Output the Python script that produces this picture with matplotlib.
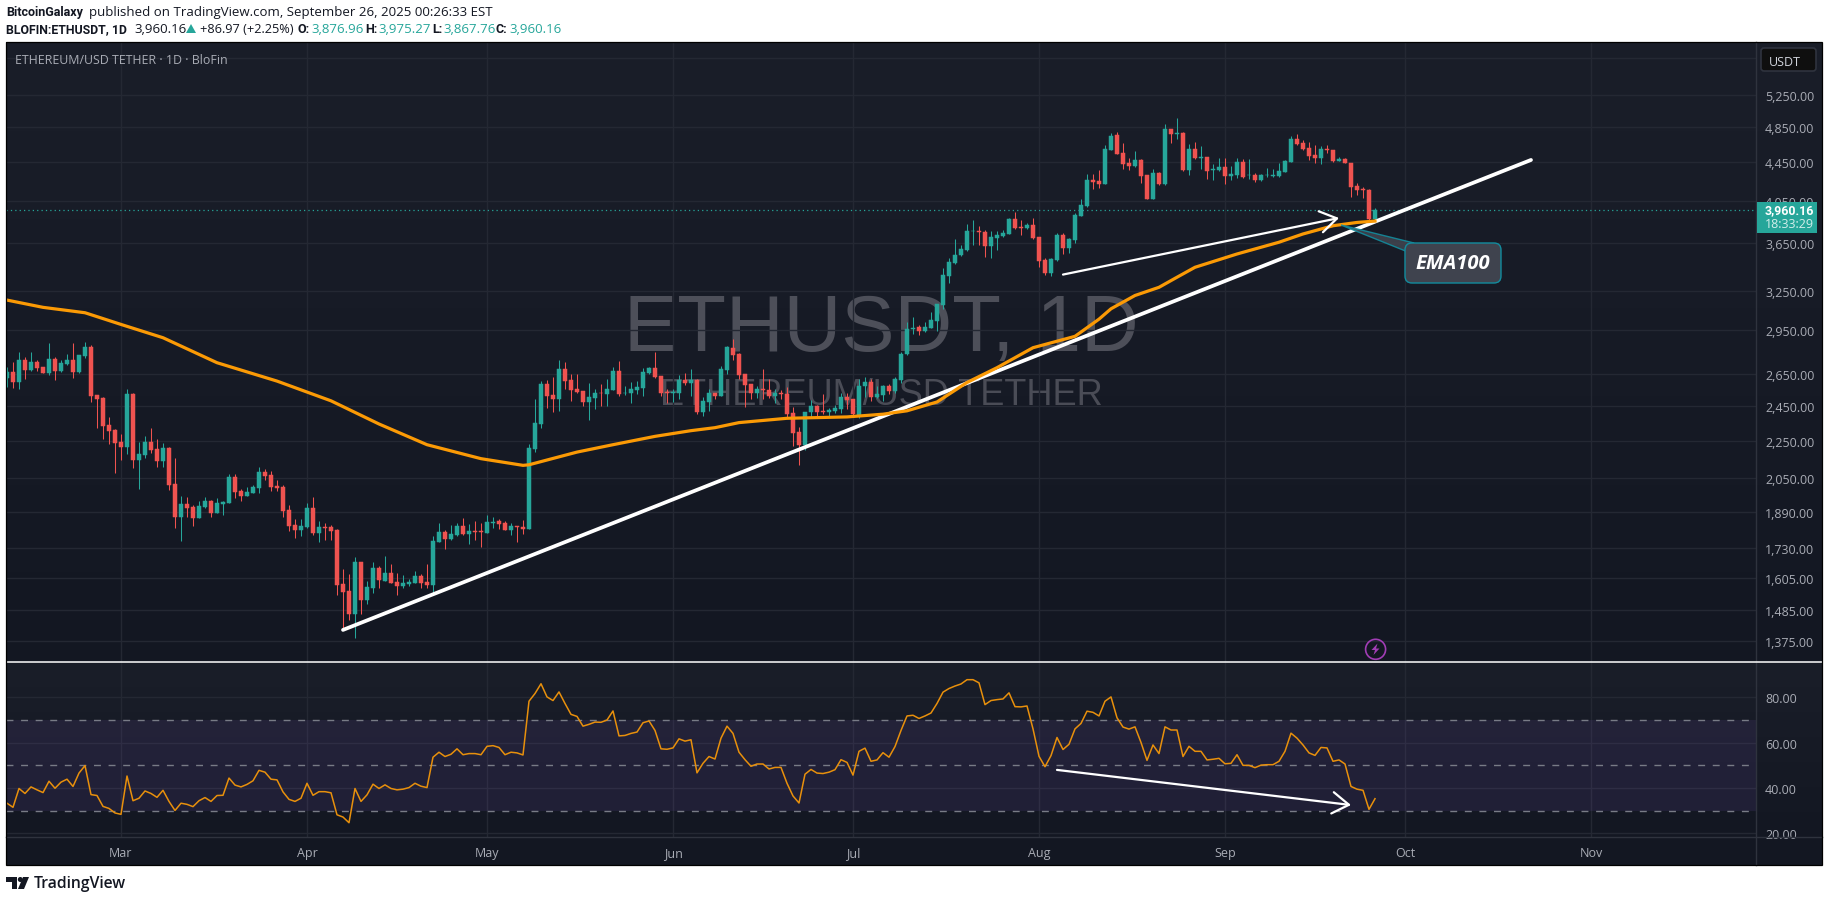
import numpy as np
import pandas as pd
import matplotlib
matplotlib.use("Agg")
import matplotlib.pyplot as plt
from matplotlib.colors import LinearSegmentedColormap
from matplotlib.lines import Line2D
from matplotlib.patches import Circle, FancyBboxPatch, Polygon, Rectangle
from matplotlib.transforms import Affine2D

W, H = 1829, 903

# daily candles, 2025-02-10 .. 2025-09-26
opens = [
    2623, 2659, 2598, 2744, 2673, 2727, 2692, 2652, 2751, 2666,
    2716, 2744, 2659, 2765, 2828, 2515, 2496, 2338, 2309, 2241,
    2215, 2521, 2147, 2173, 2241, 2204, 2141, 2210, 2023, 1865,
    1925, 1911, 1860, 1911, 1940, 1883, 1925, 1930, 2057, 1989,
    1964, 1979, 2003, 2084, 2067, 2013, 2008, 1896, 1829, 1807,
    1820, 1906, 1794, 1820, 1820, 1807, 1583, 1556, 1472, 1671,
    1521, 1567, 1647, 1595, 1627, 1591, 1575, 1583, 1587, 1614,
    1591, 1579, 1754, 1798, 1767, 1785, 1825, 1789, 1803, 1803,
    1794, 1838, 1847, 1838, 1807, 1825, 1820, 1811, 2204, 2344,
    2583, 2515, 2490, 2680, 2608, 2552, 2540, 2471, 2496, 2531,
    2521, 2546, 2666, 2525, 2525, 2548, 2558, 2652, 2687, 2633,
    2533, 2525, 2531, 2608, 2592, 2608, 2412, 2471, 2527, 2508,
    2673, 2821, 2779, 2646, 2583, 2527, 2552, 2546, 2508, 2525,
    2521, 2406, 2298, 2225, 2412, 2446, 2418, 2412, 2418, 2429,
    2502, 2490, 2395, 2571, 2596, 2502, 2515, 2571, 2540, 2608,
    2779, 2960, 2970, 2941, 2968, 3015, 3140, 3372, 3474, 3545,
    3590, 3759, 3765, 3756, 3627, 3700, 3718, 3737, 3876, 3802,
    3793, 3821, 3709, 3500, 3397, 3500, 3728, 3610, 3681, 3904,
    3997, 4264, 4253, 4222, 4591, 4762, 4557, 4443, 4411, 4477,
    4317, 4064, 4338, 4222, 4831, 4774, 4785, 4369, 4602, 4495,
    4511, 4369, 4369, 4401, 4306, 4317, 4454, 4310, 4317, 4264,
    4310, 4306, 4306, 4348, 4454, 4717, 4671, 4614, 4534, 4499,
    4602, 4591, 4465, 4488, 4443, 4201, 4169, 4159, 3876.96,
]
highs = [
    2692, 2727, 2798, 2762, 2798, 2744, 2692, 2856, 2762, 2741,
    2779, 2856, 2772, 2863, 2847, 2515, 2506, 2382, 2315, 2286,
    2552, 2527, 2240, 2275, 2320, 2258, 2236, 2215, 2157, 1964,
    1960, 1921, 1940, 1960, 1945, 1955, 1940, 2073, 2073, 1998,
    2008, 2018, 2110, 2099, 2089, 2042, 2018, 1921, 1856, 1856,
    1930, 1960, 1847, 1838, 1829, 1811, 1643, 1622, 1691, 1671,
    1595, 1671, 1655, 1695, 1663, 1627, 1618, 1603, 1635, 1622,
    1662, 1780, 1838, 1807, 1829, 1838, 1860, 1834, 1847, 1838,
    1874, 1865, 1856, 1847, 1838, 1825, 1851, 2231, 2490, 2602,
    2608, 2627, 2744, 2730, 2646, 2646, 2540, 2590, 2552, 2583,
    2615, 2694, 2737, 2569, 2594, 2604, 2687, 2692, 2793, 2633,
    2556, 2556, 2644, 2652, 2680, 2615, 2506, 2552, 2527, 2704,
    2837, 2884, 2786, 2646, 2583, 2569, 2680, 2619, 2552, 2548,
    2567, 2444, 2324, 2412, 2484, 2452, 2521, 2439, 2452, 2525,
    2525, 2490, 2619, 2631, 2615, 2569, 2577, 2583, 2629, 2798,
    3010, 3047, 2985, 3010, 3085, 3147, 3431, 3522, 3684, 3630,
    3830, 3867, 3805, 3774, 3765, 3759, 3768, 3883, 3938, 3867,
    3836, 3883, 3709, 3517, 3517, 3746, 3746, 3696, 3932, 4064,
    4327, 4327, 4369, 4648, 4781, 4797, 4671, 4499, 4580, 4488,
    4317, 4380, 4345, 4888, 4831, 4957, 4800, 4660, 4679, 4633,
    4511, 4429, 4496, 4496, 4415, 4496, 4488, 4488, 4338, 4324,
    4387, 4380, 4443, 4477, 4751, 4774, 4698, 4682, 4640, 4633,
    4640, 4591, 4515, 4499, 4443, 4232, 4190, 4169, 3975.27,
]
lows = [
    2567, 2558, 2552, 2615, 2666, 2669, 2655, 2641, 2608, 2661,
    2711, 2621, 2652, 2753, 2471, 2321, 2258, 2231, 2078, 2147,
    2178, 2105, 1998, 2157, 2183, 2106, 2110, 1993, 1816, 1758,
    1865, 1825, 1860, 1906, 1865, 1883, 1874, 1930, 1955, 1940,
    1964, 1979, 1979, 2042, 1989, 1989, 1865, 1803, 1771, 1780,
    1816, 1785, 1754, 1763, 1763, 1540, 1414, 1448, 1386, 1472,
    1506, 1548, 1567, 1595, 1587, 1540, 1567, 1575, 1587, 1567,
    1567, 1540, 1754, 1723, 1763, 1780, 1785, 1745, 1763, 1732,
    1794, 1816, 1811, 1807, 1785, 1754, 1789, 1811, 2188, 2320,
    2435, 2412, 2418, 2552, 2477, 2527, 2446, 2366, 2429, 2446,
    2448, 2546, 2508, 2517, 2469, 2521, 2510, 2650, 2623, 2510,
    2469, 2471, 2490, 2581, 2510, 2399, 2387, 2420, 2494, 2508,
    2648, 2744, 2615, 2442, 2494, 2496, 2490, 2500, 2464, 2490,
    2376, 2218, 2120, 2196, 2381, 2391, 2400, 2391, 2406, 2406,
    2429, 2395, 2380, 2506, 2479, 2498, 2479, 2521, 2527, 2590,
    2773, 2924, 2913, 2936, 2965, 2941, 3110, 3312, 3465, 3539,
    3585, 3630, 3630, 3529, 3517, 3587, 3706, 3734, 3784, 3728,
    3784, 3684, 3440, 3380, 3369, 3494, 3553, 3568, 3653, 3901,
    3991, 4169, 4176, 4218, 4583, 4538, 4380, 4373, 4401, 4229,
    4064, 4064, 4215, 4211, 4671, 4717, 4362, 4317, 4488, 4380,
    4275, 4264, 4362, 4222, 4260, 4285, 4282, 4268, 4243, 4257,
    4292, 4296, 4296, 4345, 4450, 4640, 4591, 4480, 4443, 4432,
    4557, 4454, 4461, 4443, 4085, 4106, 4075, 3830, 3867.76,
]
closes = [
    2659, 2598, 2744, 2673, 2727, 2687, 2655, 2751, 2666, 2723,
    2744, 2662, 2772, 2828, 2510, 2490, 2334, 2304, 2236, 2215,
    2521, 2147, 2178, 2241, 2199, 2141, 2210, 2018, 1865, 1925,
    1906, 1860, 1916, 1940, 1883, 1930, 1935, 2057, 1984, 1964,
    1984, 2008, 2084, 2062, 2008, 2003, 1892, 1825, 1807, 1825,
    1906, 1794, 1820, 1816, 1803, 1579, 1552, 1469, 1671, 1521,
    1571, 1647, 1599, 1627, 1587, 1575, 1587, 1591, 1614, 1587,
    1579, 1758, 1798, 1767, 1789, 1825, 1789, 1803, 1798, 1798,
    1843, 1843, 1834, 1807, 1825, 1820, 1811, 2210, 2349, 2583,
    2508, 2490, 2680, 2602, 2546, 2533, 2471, 2502, 2527, 2527,
    2552, 2666, 2521, 2529, 2552, 2565, 2659, 2687, 2627, 2527,
    2529, 2537, 2608, 2592, 2608, 2412, 2477, 2527, 2508, 2680,
    2828, 2772, 2640, 2577, 2527, 2552, 2548, 2508, 2525, 2521,
    2400, 2292, 2225, 2412, 2446, 2412, 2412, 2423, 2435, 2502,
    2483, 2400, 2571, 2596, 2502, 2521, 2571, 2540, 2615, 2779,
    2960, 2965, 2941, 2975, 3020, 3147, 3380, 3482, 3550, 3602,
    3765, 3765, 3750, 3627, 3709, 3728, 3746, 3876, 3793, 3793,
    3821, 3700, 3491, 3397, 3508, 3728, 3610, 3690, 3914, 4007,
    4264, 4246, 4222, 4602, 4751, 4545, 4432, 4411, 4477, 4306,
    4064, 4338, 4222, 4831, 4774, 4781, 4369, 4602, 4499, 4511,
    4359, 4380, 4397, 4306, 4327, 4454, 4296, 4317, 4264, 4317,
    4317, 4317, 4359, 4465, 4717, 4660, 4602, 4522, 4499, 4602,
    4591, 4465, 4488, 4443, 4190, 4159, 4159, 3873, 3960.16,
]
rsi = [
    33.3, 31.5, 39.8, 37.6, 40.5, 39.2, 38.0, 43.0, 39.9, 42.6,
    43.9, 40.7, 46.6, 49.9, 37.1, 36.7, 31.9, 31.0, 29.0, 28.4,
    45.3, 34.4, 35.5, 38.7, 37.6, 35.9, 39.0, 34.1, 30.1, 33.3,
    32.8, 31.8, 34.4, 35.8, 34.1, 36.7, 36.8, 44.4, 41.3, 40.5,
    41.6, 43.2, 47.8, 47.0, 43.9, 43.6, 38.3, 35.0, 34.1, 35.5,
    42.1, 36.8, 38.4, 38.4, 37.9, 28.2, 27.2, 24.7, 39.8, 34.1,
    37.0, 41.7, 39.8, 41.4, 39.8, 39.2, 39.5, 40.2, 42.1, 40.8,
    40.2, 53.6, 55.8, 53.9, 54.9, 57.3, 54.7, 55.2, 55.2, 54.7,
    58.4, 58.7, 57.9, 54.7, 55.8, 55.5, 54.6, 78.3, 81.7, 86.0,
    80.2, 78.6, 82.4, 77.3, 72.5, 71.6, 67.3, 68.1, 69.1, 69.0,
    70.0, 74.0, 63.0, 63.2, 64.1, 64.7, 68.8, 69.6, 65.4, 57.3,
    57.1, 57.7, 61.7, 60.7, 61.3, 46.7, 50.9, 53.9, 52.8, 62.0,
    67.3, 64.1, 55.8, 52.5, 49.6, 50.6, 50.6, 48.4, 49.1, 49.1,
    42.1, 36.5, 33.4, 46.1, 48.2, 46.6, 46.4, 47.0, 48.1, 52.5,
    51.3, 45.7, 56.2, 57.6, 51.8, 52.4, 55.6, 53.6, 58.3, 65.4,
    71.8, 72.1, 70.7, 71.8, 73.1, 77.3, 82.3, 83.9, 85.0, 85.9,
    87.8, 87.8, 86.4, 76.8, 78.6, 79.0, 79.3, 82.0, 75.9, 75.8,
    76.2, 66.1, 54.0, 49.4, 54.3, 62.3, 57.0, 59.3, 66.1, 68.5,
    73.9, 73.4, 71.8, 78.3, 80.2, 71.0, 66.9, 66.0, 67.0, 60.1,
    52.2, 59.0, 55.2, 67.0, 65.6, 65.6, 53.9, 58.4, 56.2, 56.2,
    52.4, 52.7, 53.1, 50.7, 50.9, 54.7, 50.0, 50.0, 49.0, 50.1,
    50.3, 50.3, 51.8, 56.2, 64.2, 62.0, 59.0, 55.5, 54.4, 57.9,
    57.7, 51.8, 52.4, 50.6, 40.7, 39.5, 39.0, 30.6, 35.3,
]

# EMA100 read at its bends
ema_days = [0, 6, 13, 19, 26, 35, 45, 54, 62, 70, 79, 86, 87, 95, 101, 108, 114,
            118, 122, 130, 140, 146, 150, 155, 160, 165, 171, 178, 182, 184, 188,
            192, 195, 198, 205, 212, 216, 221, 225, 228]
ema_vals = [3175, 3119, 3078, 2991, 2895, 2723, 2603, 2480, 2343, 2227, 2152, 2117,
            2120, 2187, 2227, 2273, 2305, 2322, 2351, 2376, 2384, 2400, 2420, 2473,
            2594, 2690, 2825, 2905, 3030, 3108, 3211, 3276, 3358, 3441, 3555, 3659,
            3734, 3810, 3841, 3854]

trend_days, trend_vals = [56, 254], [1414, 4477]
arrow_days, arrow_vals = [176, 222], [3380, 3883]
rsi_arrow_days, rsi_arrow_vals = [175, 224], [48.0, 32.5]

price_ticks = [5750, 5250, 4850, 4450, 4050, 3650, 3250, 2950, 2650, 2450, 2250,
               2050, 1890, 1730, 1605, 1485, 1375]
price_labels = ['', '5,250.00', '4,850.00', '4,450.00', '4,050.00', '3,650.00',
                '3,250.00', '2,950.00', '2,650.00', '2,450.00', '2,250.00',
                '2,050.00', '1,890.00', '1,730.00', '1,605.00', '1,485.00', '1,375.00']
rsi_ticks = [20, 40, 60, 80]
rsi_levels = [30, 50, 70]
month_starts = ['2025-03-01', '2025-04-01', '2025-05-01', '2025-06-01', '2025-07-01',
                '2025-08-01', '2025-09-01', '2025-10-01', '2025-11-01']
month_labels = ['Mar', 'Apr', 'May', 'Jun', 'Jul', 'Aug', 'Sep', 'Oct', 'Nov']

UP, DOWN = '#26A69A', '#EF5350'
GRID = '#242833'
AXIS = '#2F333E'
TXT = '#A9ACB5'
ORANGE = '#FB9A05'
BOLD = 'Roboto'
plt.rcParams['font.family'] = ['Open Sans', 'DejaVu Sans']

fig = plt.figure(figsize=(W / 100, H / 100), dpi=100, facecolor='white')
T = Affine2D().scale(1 / W, -1 / H).translate(0, 1) + fig.transFigure


def rect(x0, y0, x1, y1):
    return [x0 / W, 1 - y1 / H, (x1 - x0) / W, (y1 - y0) / H]


def label(x, y, s, color='#131722', size=9.5, weight='normal', ha='left', **kw):
    return fig.text(x, y, s, transform=T, color=color, fontsize=size, fontweight=weight,
                    ha=ha, va='center', **kw)


# pane backgrounds
shade = LinearSegmentedColormap.from_list('pane', ['#1A1E29', '#131722'])
for box in [(6, 43, 1822, 663), (6, 663, 1822, 838)]:
    bg = fig.add_axes(rect(*box), zorder=0)
    bg.imshow(np.linspace(0, 1, 256).reshape(-1, 1), aspect='auto', cmap=shade)
    bg.axis('off')
fig.add_artist(Rectangle((6, 838), 1816, 28, transform=T, facecolor='#131722', edgecolor='none', zorder=0))

start = pd.Timestamp('2025-02-10')
days = np.arange(len(closes))
month_days = [(pd.Timestamp(m) - start).days for m in month_starts]
xlim = (-1 / 6, 1749 / 6)

# price pane
ax = fig.add_axes(rect(6, 43, 1756, 663), zorder=2, facecolor='none')
ax.set_yscale('log')
ax.set_xlim(*xlim)
ax.set_ylim(1307, 5979)
ax.yaxis.tick_right()
ax.set_yticks(price_ticks)
ax.set_yticklabels(price_labels)
ax.minorticks_off()
ax.set_xticks(month_days)
ax.tick_params(axis='y', length=0, pad=6.5, labelsize=9, labelcolor=TXT)
ax.tick_params(axis='x', length=0, labelbottom=False)
ax.grid(True, color=GRID, lw=1)
ax.set_axisbelow(True)
for s in ax.spines.values():
    s.set_visible(False)

label(881, 330.5, 'ETHUSDT, 1D', color='#4D4F59', size=57.5, family='Liberation Sans', ha='center', zorder=1)
label(881, 396, 'ETHEREUM/USD TETHER', color='#4A4C56', size=26, family='Liberation Sans', ha='center', zorder=1)

o, h, l, c = map(np.array, (opens, highs, lows, closes))
colors = np.where(c >= o, UP, DOWN)
ax.vlines(days, l, h, colors=colors, lw=0.75, zorder=3)
ax.bar(days, np.abs(c - o), bottom=np.minimum(o, c), width=0.74, color=colors,
       edgecolor=colors, linewidth=0.35, zorder=4)

ax.axhline(closes[-1], color=UP, lw=0.9, ls=(0, (1, 2.5)), zorder=2)
ax.plot(trend_days, trend_vals, color='white', lw=2.7, solid_capstyle='round', zorder=5)
ax.plot(ema_days, ema_vals, color=ORANGE, lw=2.3, solid_joinstyle='round', zorder=6)
ax.annotate('', xy=(arrow_days[1], arrow_vals[1]), xytext=(arrow_days[0], arrow_vals[0]), zorder=7,
            arrowprops=dict(arrowstyle='->,head_length=0.85,head_width=0.55', color='white', lw=1.6,
                            shrinkA=0, shrinkB=0, mutation_scale=14))

# rsi pane
ax2 = fig.add_axes(rect(6, 663, 1756, 838), zorder=2, facecolor='none')
ax2.set_xlim(*xlim)
ax2.set_ylim(18.4, 95.6)
ax2.yaxis.tick_right()
ax2.set_yticks(rsi_ticks)
ax2.set_yticklabels([f'{t:.2f}' for t in rsi_ticks])
ax2.set_xticks(month_days)
ax2.set_xticklabels(month_labels)
ax2.tick_params(axis='y', length=0, pad=6.5, labelsize=9, labelcolor=TXT)
ax2.tick_params(axis='x', length=0, pad=6.2, labelsize=9, labelcolor=TXT)
ax2.grid(True, color=GRID, lw=1)
ax2.set_axisbelow(True)
for s in ax2.spines.values():
    s.set_visible(False)
ax2.axhspan(rsi_levels[0], rsi_levels[-1], color='#7E57C2', alpha=0.12, lw=0, zorder=1)
for lev in rsi_levels:
    ax2.axhline(lev, color='#787B86', lw=1, ls=(0, (5, 5.5)), zorder=2)
ax2.plot(days, rsi, color='#E8900C', lw=1.1, zorder=3)
ax2.annotate('', xy=(rsi_arrow_days[1], rsi_arrow_vals[1]),
             xytext=(rsi_arrow_days[0], rsi_arrow_vals[0]), zorder=4,
             arrowprops=dict(arrowstyle='->,head_length=0.85,head_width=0.55', color='white', lw=1.6,
                             shrinkA=0, shrinkB=0, mutation_scale=14))

# frame and separators
for xs, ys, col, lw in [([1756, 1756], [43, 866], AXIS, 1), ([6, 1822], [838, 838], AXIS, 1),
                        ([6, 1822], [663, 663], 'white', 1.1)]:
    fig.add_artist(Line2D(xs, ys, transform=T, color=col, lw=lw, zorder=5))
fig.add_artist(Rectangle((5.5, 43), 1816.5, 823, transform=T, fill=False, edgecolor='#000000', lw=0.9, zorder=6))

# header
label(6, 12.7, 'BitcoinGalaxy', size=9, weight='bold', family=BOLD)
label(89, 12.7, 'published on TradingView.com, September 26, 2025 00:26:33 EST')
label(6, 29.7, 'BLOFIN:ETHUSDT, 1D', size=8.8, weight='bold', family=BOLD)
label(134, 29.7, '3,960.16')
fig.add_artist(Polygon([(186, 34), (196, 34), (191, 25)], transform=T, facecolor=UP, edgecolor='none'))
label(200, 29.7, '+86.97 (+2.25%)', size=9.2)
for x, s in [(297, 'O:'), (365, 'H:'), (432, 'L:'), (496, 'C:')]:
    label(x, 29.7, s, size=9, weight='bold', family=BOLD)
for x, s in [(311, '3,876.96'), (378, '3,975.27'), (443, '3,867.76'), (509, '3,960.16')]:
    label(x, 29.7, s, color=UP)
label(15, 60.7, 'ETHEREUM/USD TETHER · 1D · BloFin', color='#A9ACB5', size=8.9, zorder=8)

# price axis extras
fig.add_artist(FancyBboxPatch((1761, 49), 55, 23, boxstyle='round,pad=0,rounding_size=3', transform=T,
                              facecolor='#0F0F0F', edgecolor='#2F333E', lw=1.2, zorder=7))
label(1769, 62, 'USDT', color='#D1D4DC', size=9, zorder=8)
fig.add_artist(Rectangle((1757, 203), 60, 31, transform=T, facecolor=UP, edgecolor='none', zorder=7))
label(1765, 211, '3,960.16', color='white', size=8.9, weight='bold', family=BOLD, zorder=8)
label(1765, 225, '18:33:29', color='#D4EEEB', size=9, zorder=8)

# callout
fig.add_artist(Polygon([(1341, 226), (1414, 244), (1405.5, 252)], transform=T, facecolor='#3F434E',
                       edgecolor='#128C9E', lw=1, alpha=0.9, zorder=7))
fig.add_artist(FancyBboxPatch((1405, 244), 96, 40, boxstyle='round,pad=0,rounding_size=7', transform=T,
                              facecolor='#3F434E', edgecolor='#128C9E', lw=1, zorder=8))
label(1453, 264, 'EMA100', color='white', size=14.5, weight='bold', style='italic', ha='center', zorder=9)

# lightning badge
fig.add_artist(Circle((1375.6, 650.3), 10, transform=T, fill=False, edgecolor='#A13DB5', lw=1.2, zorder=7))
fig.add_artist(Polygon([(1377.5, 644.5), (1371.5, 651), (1375, 651), (1373.5, 656), (1379.5, 649.5), (1376, 649.5)],
                       transform=T, facecolor='#A13DB5', edgecolor='none', zorder=7))

# footer logo
LOGO = '#131722'
fig.add_artist(Polygon([(6, 878), (17, 878), (17, 890), (12, 890), (12, 883), (6, 883)], transform=T,
                       facecolor=LOGO, edgecolor='none'))
fig.add_artist(Circle((20.3, 880.5), 2.5, transform=T, facecolor=LOGO, edgecolor='none'))
fig.add_artist(Polygon([(23, 878), (29, 878), (24, 890), (18, 890)], transform=T, facecolor=LOGO, edgecolor='none'))
label(34, 884, 'TradingView', size=11.3, weight='semibold')

fig.savefig('out.png', dpi=100)
